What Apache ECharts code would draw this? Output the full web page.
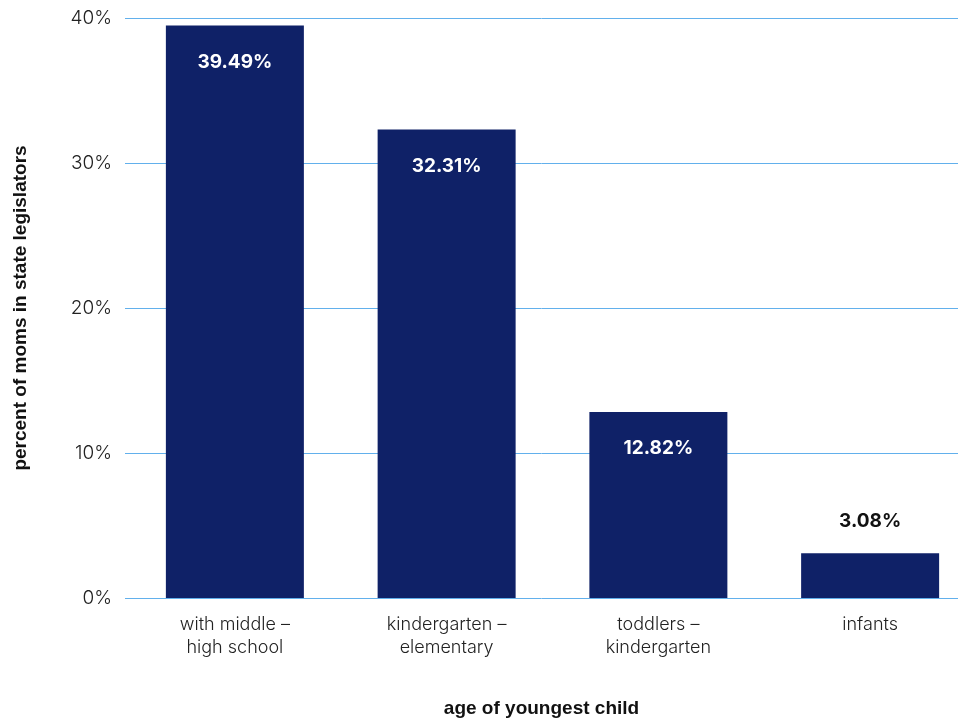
<!DOCTYPE html>
<html>
<head>
<meta charset="utf-8">
<script src="https://cdn.jsdelivr.net/npm/echarts@6/dist/echarts.min.js"></script>
<style>html,body{margin:0;padding:0;background:#fff}#c{width:958px;height:721px}</style>
</head>
<body>
<div id="c"></div>
<script>
const categories = ['with middle –\nhigh school', 'kindergarten –\nelementary', 'toddlers –\nkindergarten', 'infants'];
const values = [39.49, 32.31, 12.82, 3.08];
const yTicks = [0, 10, 20, 30, 40];

const chart = echarts.init(document.getElementById('c'));
const navy = '#0f2167';
const font = 'Inter, "Noto Sans", sans-serif';
const boldFont = '"Liberation Sans", Arial, sans-serif';
chart.setOption({
  animation: false,
  grid: [
    {left: 129, right: -18, top: 18, bottom: 123, outerBoundsMode: 'none', containLabel: false},
    {left: 125, right: 0, top: 18, bottom: 123, outerBoundsMode: 'none', containLabel: false}
  ],
  xAxis: [
    {type: 'category', gridIndex: 0, data: categories,
     axisLine: {show: false}, axisTick: {show: false}, splitLine: {show: false},
     axisLabel: {color: '#222', fontFamily: font, fontSize: 18, fontWeight: 300, lineHeight: 23, margin: 15, interval: 0}},
    {type: 'value', gridIndex: 1, min: 0, max: 1, show: true,
     axisLine: {show: false}, axisTick: {show: false}, axisLabel: {show: false}, splitLine: {show: false},
     name: 'age of youngest child', nameLocation: 'middle', nameGap: 101,
     nameTextStyle: {color: '#111', fontFamily: boldFont, fontSize: 19, fontWeight: 'bold'}}
  ],
  yAxis: [
    {type: 'value', gridIndex: 0, min: yTicks[0], max: yTicks[yTicks.length - 1], interval: 10, show: false,
     splitLine: {show: false}, axisLabel: {show: false}},
    {type: 'value', gridIndex: 1, min: yTicks[0], max: yTicks[yTicks.length - 1], interval: 10,
     axisLine: {show: false}, axisTick: {show: false},
     axisLabel: {formatter: v => v + '%', color: '#222', fontFamily: font, fontSize: 19, fontWeight: 300, margin: 13},
     splitLine: {lineStyle: {color: '#62b0ec', width: 1}},
     name: 'percent of moms in state legislators', nameLocation: 'middle', nameGap: 95,
     nameTextStyle: {color: '#111', fontFamily: boldFont, fontSize: 19, fontWeight: 'bold'}}
  ],
  series: [
    {type: 'bar', xAxisIndex: 0, yAxisIndex: 0, barWidth: 138, z: 3,
     data: values.map(v => ({
       value: v,
       label: v >= 5
         ? {show: true, position: 'insideTop', distance: 27, color: '#fff'}
         : {show: true, position: 'top', distance: 23, color: '#111'}
     })),
     itemStyle: {color: navy},
     label: {formatter: p => p.value.toFixed(2) + '%', fontFamily: font, fontSize: 19, fontWeight: 'bold'}},
    {type: 'line', xAxisIndex: 1, yAxisIndex: 1, data: []}
  ]
});
</script>
</body>
</html>
